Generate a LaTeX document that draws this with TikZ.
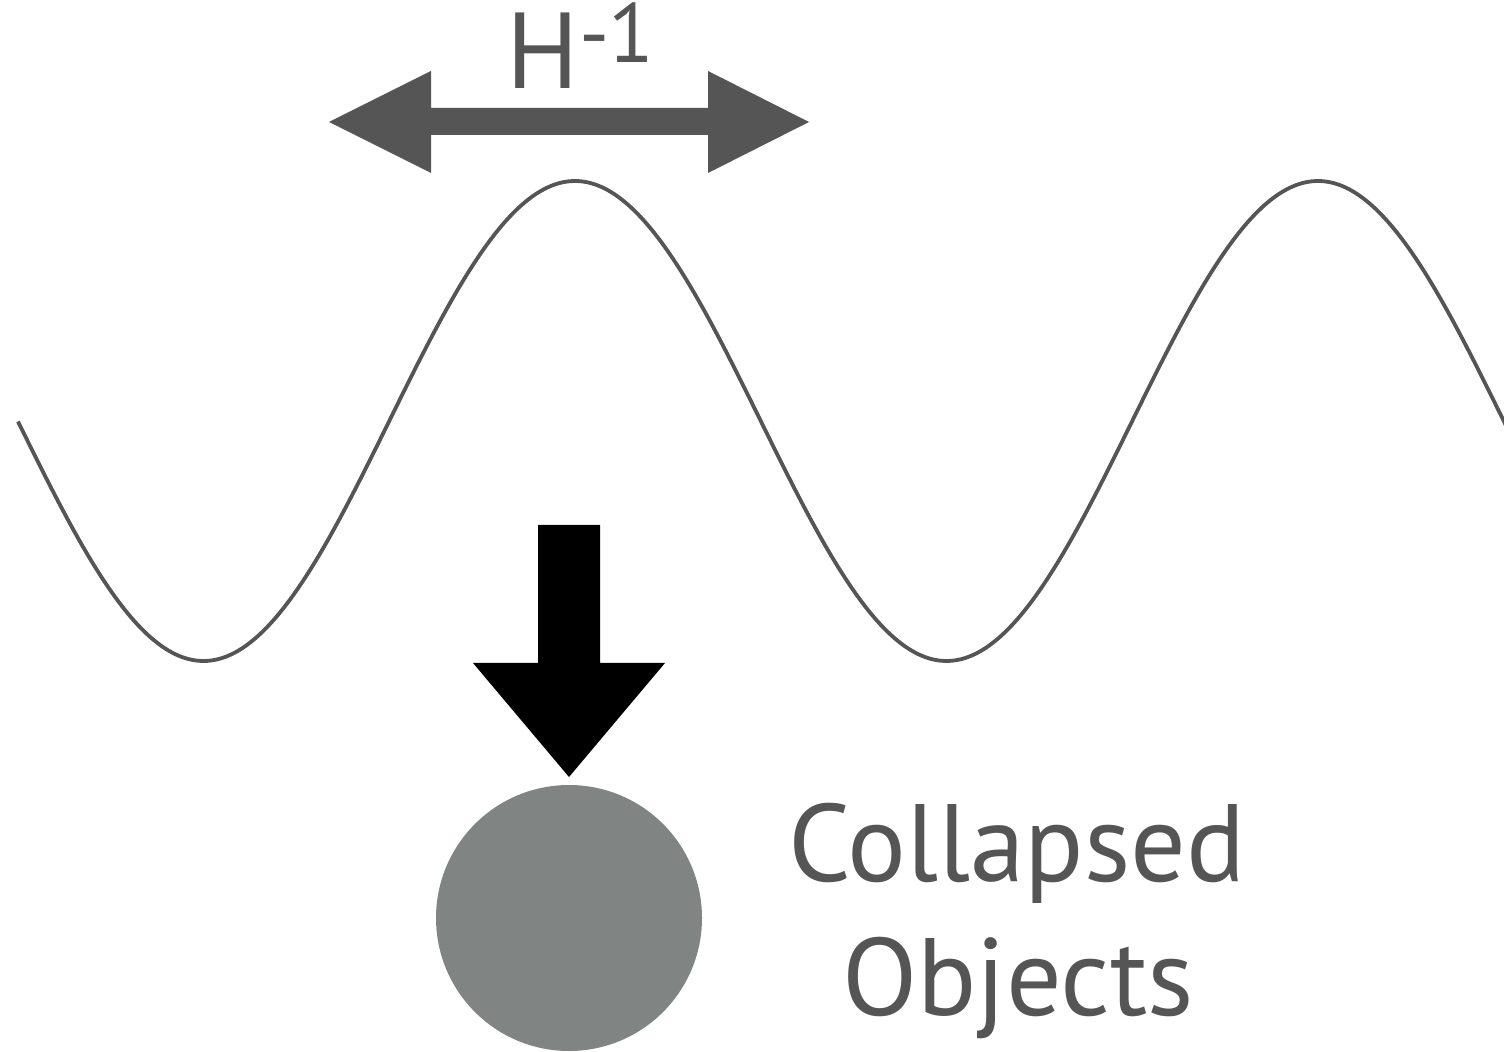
\documentclass[tikz,border=0pt]{standalone}
\usepackage{fontspec}
\setmainfont{PT Sans}
\definecolor{dark}{HTML}{555555}
\definecolor{ball}{RGB}{128,133,131}
\begin{document}
\begin{tikzpicture}[x=0.5pt,y=-0.5pt,
  lbl/.style={inner sep=0pt,text=dark,anchor=base},
  big/.style={font=\fontsize{55}{55}\selectfont}]
\useasboundingbox (0,0) rectangle (1504,1052);
\clip (0,0) rectangle (1504,1052);
% wave
\draw[dark,line width=1.9pt,line join=round] plot[domain=18:1510,samples=300,smooth]
  (\x,{421-240*cos(0.484522*(\x-575))});
% double arrow
\fill[dark] (329,122) -- (431,71) -- (431,108) -- (708,108) -- (708,71) -- (809,122)
  -- (708,173) -- (708,135) -- (431,135) -- (431,173) -- cycle;
% label
\node[lbl,anchor=base west] (h) at (506,89)
  {\fontsize{54}{54}\selectfont H\kern0.5pt\raisebox{13pt}{\fontsize{42}{42}\selectfont -\kern-1pt 1}};
% down arrow
\fill[black] (538,525) -- (600,525) -- (600,663) -- (665,663) -- (569,777)
  -- (473,663) -- (538,663) -- cycle;
% ball
\fill[ball] (569,918) circle[radius=133];
\node[lbl,big] (c) at (1017,881) {Collapsed};
\node[lbl,big] (o) at (1018,1015) {Objects};
\end{tikzpicture}
\end{document}
